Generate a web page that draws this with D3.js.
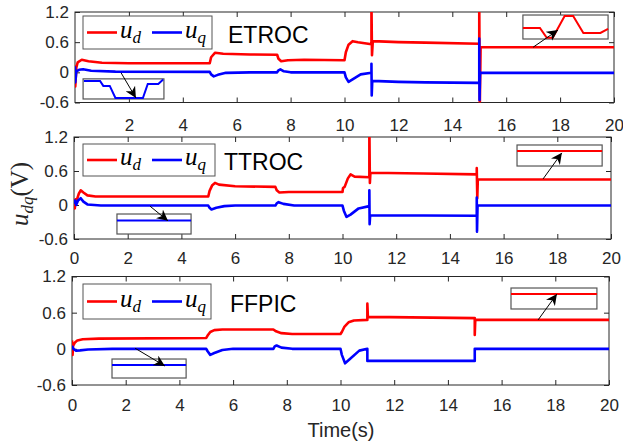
<!DOCTYPE html>
<html>
<head>
<meta charset="utf-8">
<script src="https://cdnjs.cloudflare.com/ajax/libs/d3/7.8.5/d3.min.js"></script>
<style>
  body { margin: 0; background: #fff; }
  svg { display: block; font-family: "Liberation Sans", Arial, sans-serif; }
</style>
</head>
<body>
<div id="chart"></div>
<script>
// tick values shared by the three panels
var xTicksAll = [0, 2, 4, 6, 8, 10, 12, 14, 16, 18, 20];
var xTicksTop = [2, 4, 6, 8, 10, 12, 14, 16, 18, 20];
var yTicks = [-0.6, 0, 0.6, 1.2];

// ETROC: u_d and u_q (time in s, value in V)
var etrocTd = [0, 0.01, 0.05, 0.1, 0.25, 0.5, 1, 2, 5, 5.05, 5.2, 5.5, 6.5, 7.5, 7.55, 7.65, 7.9, 8.5, 10, 10.05, 10.15, 10.3, 10.5, 11, 11, 11.02, 11.05, 12, 13, 15, 15, 15.02, 15.05, 20];
var etrocUd = [0.14, -0.28, 0.1, 0.2, 0.25, 0.22, 0.19, 0.18, 0.18, 0.3, 0.39, 0.37, 0.355, 0.35, 0.27, 0.22, 0.24, 0.25, 0.24, 0.4, 0.55, 0.62, 0.6, 0.56, 1.4, 0.34, 0.62, 0.6, 0.59, 0.57, 1.4, -0.7, 0.5, 0.5];
var etrocTq = [0, 0.01, 0.05, 0.15, 0.3, 0.6, 1.5, 5, 5.05, 5.15, 5.3, 5.6, 6.5, 7.5, 7.55, 7.62, 7.75, 8, 10, 10.05, 10.15, 10.3, 10.6, 11, 11, 11.01, 11.03, 12, 13, 15, 15, 15.01, 15.03, 20];
var etrocUq = [0.12, -0.2, 0.02, 0.05, 0.06, 0.03, 0.015, 0.01, -0.04, -0.08, -0.05, -0.01, 0, 0, 0.04, 0.06, 0.02, 0, 0, -0.1, -0.19, -0.14, -0.04, -0.01, 0.17, -0.46, -0.17, -0.19, -0.2, -0.21, 0.67, -0.55, -0.01, -0.01];

// TTROC
var ttrocTd = [0, 0.03, 0.06, 0.1, 0.18, 0.25, 0.35, 0.5, 0.8, 2, 5, 5.05, 5.15, 5.25, 5.4, 6, 7.5, 7.55, 7.65, 8, 10, 10.02, 10.08, 10.2, 10.3, 10.45, 11, 11, 11.02, 11.04, 13, 15, 15, 15.02, 15.04, 20];
var ttrocUd = [0.1, -0.06, 0.1, 0.08, 0.2, 0.26, 0.22, 0.17, 0.15, 0.15, 0.15, 0.25, 0.35, 0.39, 0.36, 0.33, 0.32, 0.26, 0.22, 0.23, 0.23, 0.3, 0.32, 0.47, 0.54, 0.5, 0.49, 1.4, 0.39, 0.57, 0.555, 0.54, 0.65, 0.12, 0.45, 0.45];
var ttrocTq = [0, 0.04, 0.08, 0.15, 0.25, 0.35, 0.5, 1, 5, 5.05, 5.12, 5.3, 5.6, 6, 7.5, 7.55, 7.62, 7.8, 8.2, 10, 10.05, 10.15, 10.3, 10.6, 11, 11, 11.01, 11.03, 15, 15, 15.01, 15.03, 20];
var ttrocUq = [0.02, 0.08, 0, 0.08, 0.12, 0.06, 0.01, -0.01, -0.01, -0.05, -0.08, -0.05, -0.02, -0.01, -0.01, 0.03, 0.05, 0.02, -0.01, -0.01, -0.1, -0.21, -0.17, -0.06, -0.02, 0.26, -0.34, -0.18, -0.19, 0.13, -0.47, -0.01, -0.01];

// FFPIC
var ffpicTd = [0, 0.02, 0.04, 0.1, 0.2, 0.4, 1, 5, 5.05, 5.15, 5.3, 5.6, 7.5, 7.6, 7.8, 8.2, 10, 10.05, 10.15, 10.3, 10.5, 11, 11, 11.02, 15, 15, 15.02, 20];
var ffpicUd = [0.14, -0.1, 0.05, 0.1, 0.14, 0.16, 0.17, 0.18, 0.22, 0.28, 0.31, 0.32, 0.32, 0.29, 0.26, 0.245, 0.245, 0.28, 0.37, 0.44, 0.47, 0.48, 0.75, 0.53, 0.51, 0.23, 0.48, 0.48];
var ffpicTq = [0, 0.05, 0.15, 0.3, 0.6, 1.5, 5, 5.05, 5.15, 5.3, 5.6, 6, 7.5, 7.55, 7.62, 7.8, 8.2, 10, 10.05, 10.17, 10.35, 10.7, 11, 11, 15, 15, 20];
var ffpicUq = [0.05, 0, -0.03, -0.025, -0.01, 0, 0, -0.04, -0.1, -0.07, -0.02, 0, 0, 0.04, 0.055, 0.02, 0, 0, -0.1, -0.24, -0.17, -0.03, 0, -0.2, -0.2, 0, 0];

// zoomed insets (fraction of inset width / height)
var zoomEtrocQx = [0.01, 0.21, 0.25, 0.33, 0.4, 0.74, 0.8, 0.93, 0.99];
var zoomEtrocQy = [0.9, 0.9, 0.65, 0.65, 0.05, 0.05, 0.75, 0.75, 0.97];
var zoomEtrocDx = [0, 0.2, 0.28, 0.35, 0.49, 0.59, 0.71, 0.91, 1];
var zoomEtrocDy = [0.46, 0.46, 0.05, 0.05, 0.96, 0.96, 0.25, 0.25, 0.42];
var zoomFlatX = [0, 1];
var zoomTtrocQy = [0.67, 0.67];
var zoomTtrocDy = [0.71, 0.71];
var zoomFfpicQy = [0.68, 0.68];
var zoomFfpicDy = [0.71, 0.71];

var width = 623;
var height = 445;
var axisColor = "#262626";

var svg = d3.select("#chart")
  .append("svg")
  .attr("width", width)
  .attr("height", height);

// arrow head for the zoom annotations
svg.append("defs")
  .append("marker")
  .attr("id", "head")
  .attr("viewBox", "0 0 10 10")
  .attr("refX", 10)
  .attr("refY", 5)
  .attr("markerWidth", 11)
  .attr("markerHeight", 11)
  .attr("markerUnits", "userSpaceOnUse")
  .attr("orient", "auto")
  .append("path")
  .attr("d", "M0,0 L10,5 L0,10 L3,5 Z")
  .attr("fill", "#000");

function zip(xs, ys) {
  return xs.map(function(x, i) { return [x, ys[i]]; });
}

// layout for each panel
var panels = [
  {
    name: "ETROC", box: [75, 614, 12, 102.5], xTicks: xTicksTop, pad: 16,
    d: zip(etrocTd, etrocUd), q: zip(etrocTq, etrocUq),
    legend: [83, 16, 129, 33], title: [228, 43],
    insets: [
      {t: [0.3, 3.3], v: [-0.53, -0.13], color: "blue", pts: zip(zoomEtrocQx, zoomEtrocQy), arrow: [1.71, -0.01, 2.26, -0.51]},
      {t: [16.62, 19.78], v: [0.663, 1.14], color: "red", pts: zip(zoomEtrocDx, zoomEtrocDy), arrow: [17.0, 0.5, 17.92, 0.84]}
    ]
  },
  {
    name: "TTROC", box: [74, 611, 137, 239], xTicks: xTicksAll, pad: 13,
    d: zip(ttrocTd, ttrocUd), q: zip(ttrocTq, ttrocUq),
    legend: [83, 144, 132, 32], title: [224, 170],
    insets: [
      {t: [1.6, 4.36], v: [-0.512, -0.159], color: "blue", pts: zip(zoomFlatX, zoomTtrocQy), arrow: [2.83, -0.02, 3.5, -0.28]},
      {t: [16.5, 19.67], v: [0.688, 1.059], color: "red", pts: zip(zoomFlatX, zoomTtrocDy), arrow: [17.47, 0.46, 18.17, 0.92]}
    ]
  },
  {
    name: "FFPIC", box: [72, 609, 276.5, 385], xTicks: xTicksAll, pad: 13.5,
    d: zip(ffpicTd, ffpicUd), q: zip(ffpicTq, ffpicUq),
    legend: [83, 284, 128, 35], title: [230, 312],
    insets: [
      {t: [1.49, 4.25], v: [-0.484, -0.169], color: "blue", pts: zip(zoomFlatX, zoomFfpicQy), arrow: [2.35, 0.01, 3.46, -0.285]},
      {t: [16.35, 19.55], v: [0.661, 1.009], color: "red", pts: zip(zoomFlatX, zoomFfpicDy), arrow: [17.36, 0.48, 18.06, 0.91]}
    ]
  }
];

function yFormat(d) {
  return d === 0 ? "0" : d.toFixed(1);
}

panels.forEach(function(p, i) {
  var L = p.box[0], R = p.box[1], T = p.box[2], B = p.box[3];
  var xScale = d3.scaleLinear().domain([0, 20]).range([L, R]);
  var yScale = d3.scaleLinear().domain([-0.6, 1.2]).range([B, T]);

  var g = svg.append("g").attr("class", "panel");

  g.append("clipPath")
    .attr("id", "clip" + i)
    .append("rect")
    .attr("x", L).attr("y", T)
    .attr("width", R - L).attr("height", B - T);

  // ticks on all four sides, pointing in
  var axes = [
    {ax: d3.axisBottom(xScale).tickValues(p.xTicks).tickSize(-5).tickPadding(p.pad), at: "translate(0," + B + ")", lab: true},
    {ax: d3.axisTop(xScale).tickValues(p.xTicks).tickSize(-5).tickFormat(""), at: "translate(0," + T + ")"},
    {ax: d3.axisLeft(yScale).tickValues(yTicks).tickSize(-5).tickPadding(6).tickFormat(yFormat), at: "translate(" + L + ",0)", lab: true},
    {ax: d3.axisRight(yScale).tickValues(yTicks).tickSize(-5).tickFormat(""), at: "translate(" + R + ",0)"}
  ];
  axes.forEach(function(a) {
    var ga = g.append("g")
      .attr("transform", a.at)
      .call(a.ax.tickSizeOuter(0));
    ga.select(".domain").remove();
    ga.selectAll("line").attr("stroke", axisColor);
    ga.selectAll("text")
      .attr("fill", axisColor)
      .style("font-size", "17px")
      .style("font-family", "'Liberation Sans', Arial, sans-serif");
  });

  g.append("rect")
    .attr("x", L).attr("y", T)
    .attr("width", R - L).attr("height", B - T)
    .attr("fill", "none")
    .attr("stroke", axisColor)
    .attr("stroke-width", 1);

  var line = d3.line()
    .x(function(d) { return xScale(d[0]); })
    .y(function(d) { return yScale(d[1]); });

  var plot = g.append("g").attr("clip-path", "url(#clip" + i + ")");
  plot.append("path")
    .datum(p.d)
    .attr("d", line)
    .attr("fill", "none")
    .attr("stroke", "#ff0000")
    .attr("stroke-width", 2.6)
    .attr("stroke-linejoin", "round");
  plot.append("path")
    .datum(p.q)
    .attr("d", line)
    .attr("fill", "none")
    .attr("stroke", "#0000ff")
    .attr("stroke-width", 2.6)
    .attr("stroke-linejoin", "round");

  // zoom insets with their arrows
  p.insets.forEach(function(ins) {
    var ix = d3.scaleLinear().domain([0, 1]).range([xScale(ins.t[0]), xScale(ins.t[1])]);
    var iy = d3.scaleLinear().domain([0, 1]).range([yScale(ins.v[0]), yScale(ins.v[1])]);
    g.append("rect")
      .attr("x", ix(0)).attr("y", iy(1))
      .attr("width", ix(1) - ix(0)).attr("height", iy(0) - iy(1))
      .attr("fill", "#fff")
      .attr("stroke", "#555")
      .attr("stroke-width", 1.2);
    g.append("path")
      .datum(ins.pts)
      .attr("d", d3.line().x(function(d) { return ix(d[0]); }).y(function(d) { return iy(d[1]); }))
      .attr("fill", "none")
      .attr("stroke", ins.color)
      .attr("stroke-width", 2);
    g.append("line")
      .attr("x1", xScale(ins.arrow[0])).attr("y1", yScale(ins.arrow[1]))
      .attr("x2", xScale(ins.arrow[2])).attr("y2", yScale(ins.arrow[3]))
      .attr("stroke", "#000")
      .attr("stroke-width", 1)
      .attr("marker-end", "url(#head)");
  });

  // legend box
  var lg = p.legend;
  var leg = g.append("g").attr("transform", "translate(" + lg[0] + "," + lg[1] + ")");
  leg.append("rect")
    .attr("width", lg[2]).attr("height", lg[3])
    .attr("fill", "#fff")
    .attr("stroke", "#555")
    .attr("stroke-width", 1);
  var items = [{c: "#ff0000", s: "d", x: 4}, {c: "#0000ff", s: "q", x: 69}];
  items.forEach(function(it) {
    leg.append("line")
      .attr("x1", it.x).attr("x2", it.x + 30)
      .attr("y1", lg[3] / 2).attr("y2", lg[3] / 2)
      .attr("stroke", it.c)
      .attr("stroke-width", 2.6);
    var tx = leg.append("text")
      .attr("x", it.x + 33)
      .attr("y", lg[3] / 2 + 5)
      .attr("fill", "#000")
      .style("font-family", "'Liberation Serif', 'DejaVu Serif', serif")
      .style("font-style", "italic")
      .style("font-size", "25px");
    tx.append("tspan").text("u");
    tx.append("tspan").attr("dy", 5).style("font-size", "17px").text(it.s);
  });

  g.append("text")
    .attr("x", p.title[0])
    .attr("y", p.title[1])
    .attr("fill", "#000")
    .style("font-size", "23px")
    .text(p.name);
});

// shared axis labels
var yl = svg.append("text")
  .attr("transform", "translate(28,194) rotate(-90)")
  .attr("text-anchor", "middle")
  .attr("fill", axisColor)
  .style("font-family", "'Liberation Serif', 'DejaVu Serif', serif")
  .style("font-size", "25px");
yl.append("tspan").style("font-style", "italic").text("u");
yl.append("tspan").attr("dy", 5).style("font-style", "italic").style("font-size", "17px").text("dq");
yl.append("tspan").attr("dy", -5).text("(V)");

svg.append("text")
  .attr("x", 341)
  .attr("y", 437)
  .attr("text-anchor", "middle")
  .attr("fill", axisColor)
  .style("font-size", "20px")
  .text("Time(s)");
</script>
</body>
</html>
